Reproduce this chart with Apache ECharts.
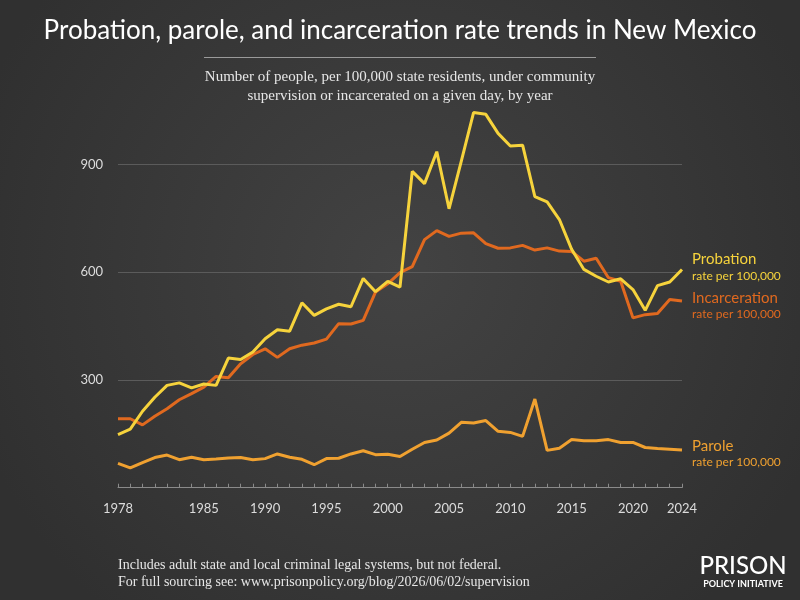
<!DOCTYPE html>
<html>
<head>
<meta charset="utf-8">
<script src="https://cdn.jsdelivr.net/npm/echarts@6/dist/echarts.min.js"></script>
<style>html,body{margin:0;padding:0;background:#3c3c3c;}#c{width:800px;height:600px;}</style>
</head>
<body>
<div id="c"></div>
<script>
const years = [1978,1979,1980,1981,1982,1983,1984,1985,1986,1987,1988,1989,1990,1991,1992,1993,1994,1995,1996,1997,1998,1999,2000,2001,2002,2003,2004,2005,2006,2007,2008,2009,2010,2011,2012,2013,2014,2015,2016,2017,2018,2019,2020,2021,2022,2023,2024];
const probation = [148,163,213,252,285,292,278,289,285,361,357,378,415,440,436,515,480,498,511,504,583,546,575,559,881,847,936,777,910,1045,1040,987,952,954,811,796,747,664,608,589,573,582,552,494,563,573,608];
const incarceration = [192,192,175,199,220,245,262,280,310,306,345,371,387,363,387,397,403,414,457,456,466,545,568,599,616,691,716,700,709,710,680,667,668,675,662,668,659,658,631,639,585,575,473,482,485,524,520];
const parole = [68,55,70,84,91,78,85,78,80,83,84,78,81,94,85,79,64,81,82,94,103,92,93,87,107,126,133,152,182,180,187,157,154,143,247,104,110,134,131,131,134,126,126,112,109,107,105];
const xTickLabels = [1978,1985,1990,1995,2000,2005,2010,2015,2020,2024];
const yTickLabels = [300,600,900];

const sans = 'Lato, "Noto Sans", sans-serif';
const serif = '"Liberation Serif", "DejaVu Serif", serif';
const cProb = '#f6d33c', cInc = '#e0691f', cPar = '#f0a130';

function pairs(vals){ return years.map((y,i)=>[y, vals[i]]); }
function endLbl(name, color, dy){
  return {
    show: true, distance: 10, offset: [0, dy],
    formatter: '{a|' + name + '}\n{b|rate per 100,000}',
    rich: {
      a: {fontFamily: sans, fontSize: 15, color: color, lineHeight: 17},
      b: {fontFamily: sans, fontSize: 12, color: color, lineHeight: 16}
    }
  };
}
const chart = echarts.init(document.getElementById('c'), null, {renderer: 'canvas'});
chart.setOption({
  animation: false,
  backgroundColor: {type: 'radial', x: 0.5, y: 0.45, r: 0.75,
    colorStops: [{offset: 0, color: '#434343'}, {offset: 1, color: '#303030'}]},
  grid: {left: 118, right: 118, top: 92.8, bottom: 112.3},
  xAxis: {
    type: 'value', min: 1978, max: 2024, interval: 1,
    axisLine: {show: true, lineStyle: {color: '#8a8a8a', width: 1}},
    axisTick: {show: true, inside: true, length: 4, lineStyle: {color: '#8a8a8a'}},
    splitLine: {show: false},
    axisLabel: {
      color: '#dcdcdc', fontFamily: sans, fontSize: 13, margin: 15,
      formatter: v => xTickLabels.indexOf(v) >= 0 ? String(v) : ''
    }
  },
  yAxis: {
    type: 'value', min: 0, max: 1100, interval: 300,
    axisLine: {show: false}, axisTick: {show: false},
    splitLine: {show: true, showMinLine: false, showMaxLine: false, lineStyle: {color: '#5b5b5b', width: 1}},
    axisLabel: {
      color: '#dcdcdc', fontFamily: sans, fontSize: 13, margin: 15,
      showMinLabel: false, showMaxLabel: false,
      formatter: v => yTickLabels.indexOf(v) >= 0 ? String(v) : ''
    }
  },
  series: [
    {name: 'Parole', type: 'line', data: pairs(parole), showSymbol: false, symbol: 'none',
      lineStyle: {color: cPar, width: 3}, itemStyle: {color: cPar}, endLabel: endLbl('Parole', cPar, 4)},
    {name: 'Incarceration', type: 'line', data: pairs(incarceration), showSymbol: false, symbol: 'none',
      lineStyle: {color: cInc, width: 3}, itemStyle: {color: cInc}, endLabel: endLbl('Incarceration', cInc, 5)},
    {name: 'Probation', type: 'line', data: pairs(probation), showSymbol: false, symbol: 'none',
      lineStyle: {color: cProb, width: 3}, itemStyle: {color: cProb}, endLabel: endLbl('Probation', cProb, -2)}
  ],
  graphic: [
    {type: 'text', left: 'center', top: 18, style: {text: 'Probation, parole, and incarceration rate trends in New Mexico',
      fill: '#ffffff', font: '26px ' + sans}},
    {type: 'line', shape: {x1: 204, y1: 57.5, x2: 596, y2: 57.5}, style: {stroke: '#9a9a9a', lineWidth: 1}},
    {type: 'text', x: 400, y: 77, style: {text: 'Number of people, per 100,000 state residents, under community',
      fill: '#e6e6e6', font: '15px ' + serif, textAlign: 'center', textVerticalAlign: 'middle'}},
    {type: 'text', x: 400, y: 96, style: {text: 'supervision or incarcerated on a given day, by year',
      fill: '#e6e6e6', font: '15px ' + serif, textAlign: 'center', textVerticalAlign: 'middle'}},
    {type: 'text', x: 118, y: 565, style: {text: 'Includes adult state and local criminal legal systems, but not federal.',
      fill: '#e6e6e6', font: '14px ' + serif, textVerticalAlign: 'middle'}},
    {type: 'text', x: 118, y: 582, style: {text: 'For full sourcing see: www.prisonpolicy.org/blog/2026/06/02/supervision',
      fill: '#e6e6e6', font: '14px ' + serif, textVerticalAlign: 'middle'}},
    {type: 'text', x: 743, y: 566, style: {text: 'PRISON', fill: '#ffffff', font: '500 24px ' + sans,
      textAlign: 'center', textVerticalAlign: 'middle'}},
    {type: 'text', x: 743, y: 584, style: {text: 'POLICY INITIATIVE', fill: '#ffffff', font: 'bold 9px ' + sans,
      textAlign: 'center', textVerticalAlign: 'middle'}}
  ]
});
</script>
</body>
</html>
